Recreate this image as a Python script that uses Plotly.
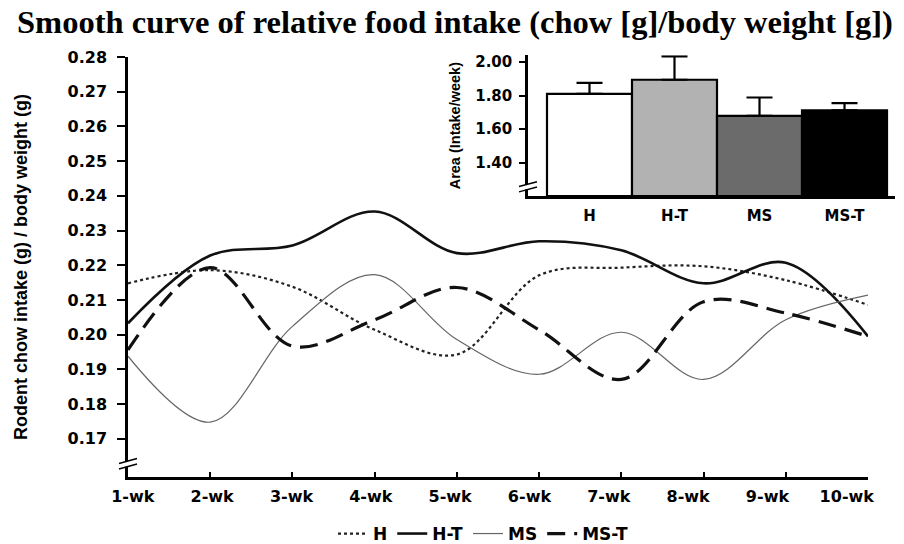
import plotly.graph_objects as go

weeks = [1, 2, 3, 4, 5, 6, 7, 8, 9, 10]
week_labels = ["1-wk", "2-wk", "3-wk", "4-wk", "5-wk", "6-wk", "7-wk", "8-wk", "9-wk", "10-wk"]

h_vals = [0.2148, 0.2186, 0.2138, 0.2014, 0.1943, 0.2171, 0.2193, 0.2197, 0.2157, 0.2086]
ht_vals = [0.2033, 0.2228, 0.2257, 0.2355, 0.2235, 0.2269, 0.2243, 0.2148, 0.2207, 0.1995]
ms_vals = [0.1938, 0.1748, 0.2024, 0.2173, 0.1986, 0.1886, 0.2007, 0.1871, 0.2043, 0.2114]
mst_vals = [0.1956, 0.2193, 0.1967, 0.2043, 0.2136, 0.2014, 0.1871, 0.2095, 0.2062, 0.1995]

y_ticks = [0.17, 0.18, 0.19, 0.20, 0.21, 0.22, 0.23, 0.24, 0.25, 0.26, 0.27, 0.28]

groups = ["H", "H-T", "MS", "MS-T"]
group_pos = [0, 1, 2, 3]
area_vals = [1.81, 1.894, 1.678, 1.712]
area_err = [0.065, 0.14, 0.11, 0.042]
bar_colors = ["#ffffff", "#b2b2b2", "#6b6b6b", "#000000"]
inset_ticks = [1.40, 1.60, 1.80, 2.00]

TICKF = dict(family="DejaVu Sans", size=16, color="black", weight="bold")
SANS = "Liberation Sans, Arial, sans-serif"

fig = go.Figure()

fig.add_trace(go.Scatter(x=weeks, y=h_vals, name="H", mode="lines",
                         line=dict(color="#222222", width=2.2, dash="dot", shape="spline", smoothing=1.0)))
fig.add_trace(go.Scatter(x=weeks, y=ht_vals, name="H-T", mode="lines",
                         line=dict(color="#111111", width=2.6, shape="spline", smoothing=1.0)))
fig.add_trace(go.Scatter(x=weeks, y=ms_vals, name="MS", mode="lines",
                         line=dict(color="#666666", width=1.2, shape="spline", smoothing=1.0)))
fig.add_trace(go.Scatter(x=weeks, y=mst_vals, name="MS-T", mode="lines",
                         line=dict(color="#111111", width=3.2, dash="18px,9px", shape="spline", smoothing=1.0)))

# invisible helper trace so the label axis is drawn
fig.add_trace(go.Scatter(x=weeks, y=h_vals, xaxis="x3", yaxis="y", mode="lines",
                         line=dict(width=0), opacity=0, showlegend=False, hoverinfo="skip"))

fig.add_trace(go.Bar(x=group_pos, y=[v - 1.2 for v in area_vals], base=1.2,
                     width=1.0, xaxis="x2", yaxis="y2", showlegend=False,
                     marker=dict(color=bar_colors, line=dict(color="black", width=2.2)),
                     error_y=dict(type="data", symmetric=False, array=area_err,
                                  arrayminus=[0, 0, 0, 0], color="black", thickness=2.2, width=13),
                     cliponaxis=False))

W, HGT = 904, 544
L, R, T, B = 128, 9, 55, 67
H = HGT - T - B  # 422
PW = W - L - R   # 767
XD = [0, (868 - L) / PW]
PXU = (868 - L) / 9.0  # pixels per week
LBL_A = 1 - 5 / PXU    # label axis shifted 5 px right of the ticks

fig.update_layout(
    width=W, height=HGT,
    margin=dict(l=L, r=R, t=T, b=B, autoexpand=False),
    paper_bgcolor="white", plot_bgcolor="rgba(0,0,0,0)",
    title=dict(text="<b>Smooth curve of relative food intake (chow [g]/body weight [g])</b>",
               font=dict(family="Liberation Serif, Times New Roman, serif", size=32.5, color="black"),
               x=455 / W, xanchor="center", xref="container", y=1 - 22 / HGT, yanchor="middle", yref="container"),
    xaxis=dict(domain=XD, range=[1, 10], tickvals=weeks, showticklabels=False,
               showline=True, linecolor="black", linewidth=2.5, ticks="inside", ticklen=5,
               tickwidth=1.5, tickcolor="black", showgrid=False, zeroline=False, automargin=False),
    xaxis3=dict(domain=[0, 1], overlaying="x", anchor="y", range=[LBL_A, LBL_A + PW / PXU],
                tickvals=weeks, ticktext=week_labels, showline=False, ticks="", showgrid=False,
                zeroline=False, tickfont=TICKF, ticklabelstandoff=8, automargin=False,
                ticklabeloverflow="allow", side="bottom"),
    yaxis=dict(domain=[0, (477 - 57) / H], range=[0.159, 0.28],
               tickvals=y_ticks, tickformat=".2f",
               showline=True, linecolor="black", linewidth=2.5, ticks="outside", ticklen=8,
               tickwidth=1.5, tickcolor="black", showgrid=False, zeroline=False,
               tickfont=TICKF, ticklabelstandoff=7, automargin=False,
               title=dict(text="<b>Rodent chow intake (g) / body weight (g)</b>",
                          font=dict(family=SANS, size=18, color="black"), standoff=36)),
    xaxis2=dict(domain=[(528 - L) / PW, 1.0], range=[-0.7235, 3.594], anchor="y2",
                tickvals=group_pos, ticktext=groups, showline=True, linecolor="black",
                linewidth=2.5, ticks="", showgrid=False, zeroline=False, automargin=False,
                tickfont=dict(family="DejaVu Sans", size=15, color="black", weight="bold"),
                ticklabelstandoff=4, ticklabeloverflow="allow"),
    yaxis2=dict(domain=[(477 - 196) / H, (477 - 55.3) / H], range=[1.2, 2.04], anchor="x2",
                tickvals=inset_ticks, tickformat=".2f", showline=True, linecolor="black",
                linewidth=2.5, ticks="outside", ticklen=6, tickwidth=1.5, tickcolor="black",
                showgrid=False, zeroline=False, automargin=False,
                tickfont=dict(family="DejaVu Sans", size=15, color="black", weight="bold"),
                ticklabelstandoff=4,
                title=dict(text="<b>Area (Intake/week)</b>",
                           font=dict(family=SANS, size=14.5, color="black"), standoff=12)),
    legend=dict(orientation="h", x=(483 - L) / PW, xanchor="center", y=(477 - 534) / H, yanchor="middle",
                font=dict(family="DejaVu Sans", size=17, color="black", weight="bold"),
                itemwidth=30, bgcolor="rgba(0,0,0,0)", traceorder="normal"),
    showlegend=True,
)

# axis break marks
def add_break(xref, yref, yval, dy):
    fig.add_shape(type="rect", xref=xref, yref=yref, xsizemode="pixel", xanchor=0,
                  x0=-3, x1=3, y0=yval - dy, y1=yval + dy,
                  fillcolor="white", line=dict(width=0), layer="above")
    for off in (-dy, dy):
        fig.add_shape(type="line", xref=xref, yref=yref, xsizemode="pixel", xanchor=0,
                      x0=-9, x1=9, y0=yval + off - dy * 0.9, y1=yval + off + dy * 0.9,
                      line=dict(color="black", width=1.5), layer="above")

add_break("x domain", "y", 0.1628, 0.0008)
add_break("x2 domain", "y2", 1.255, 0.016)

fig.write_html("out.html", config={"displayModeBar": False},
               post_script="document.body.style.margin='0px';document.body.style.overflow='hidden';")
